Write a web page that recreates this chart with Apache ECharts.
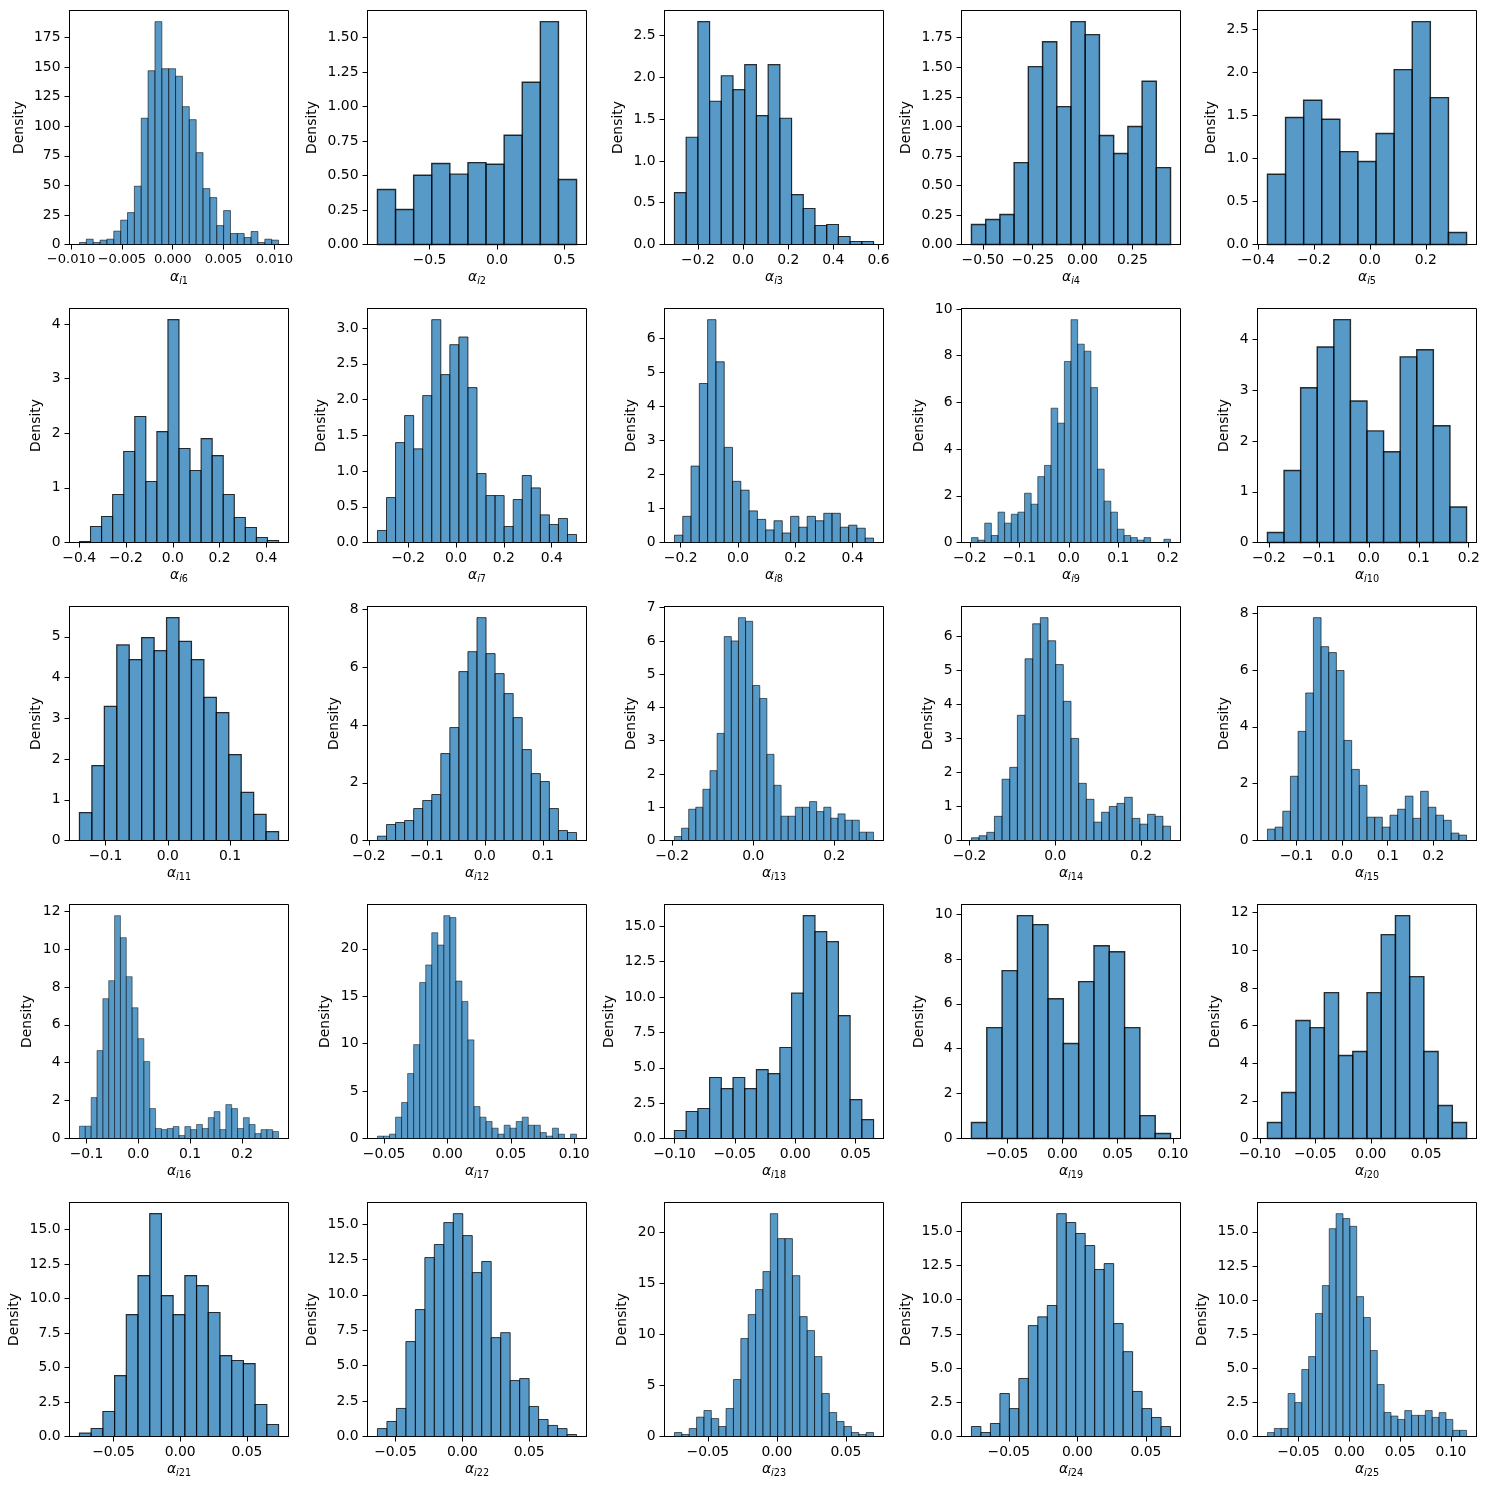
<!DOCTYPE html>
<html>
<head>
<meta charset="utf-8">
<script src="https://cdn.jsdelivr.net/npm/echarts@6/dist/echarts.min.js"></script>
<style>
  html, body { margin: 0; padding: 0; background: #fff; }
  #chart { width: 1489px; height: 1490px; }
</style>
</head>
<body>
<div id="chart"></div>
<script>
// density heights per panel
var h1 = [1.7, 4.5, 1.7, 3.7, 4.5, 11.3, 20.6, 27, 49.3, 106.8, 147, 188.5, 148.7, 148.7, 142.3, 116.6, 105.6, 77.7, 47.3, 39.7, 16, 28.7, 9.3, 9.3, 5.9, 11, 1.7, 4.5, 3.7];
var h2 = [0.399, 0.254, 0.502, 0.587, 0.51, 0.594, 0.582, 0.792, 1.176, 1.616, 0.471];
var h3 = [0.622, 1.284, 2.668, 1.715, 2.02, 1.854, 2.153, 1.543, 2.153, 1.511, 0.598, 0.431, 0.227, 0.239, 0.096, 0.036, 0.036];
var h4 = [0.169, 0.211, 0.254, 0.693, 1.505, 1.716, 1.167, 1.886, 1.776, 0.922, 0.77, 0.998, 1.381, 0.651];
var h5 = [0.818, 1.477, 1.678, 1.457, 1.081, 0.965, 1.291, 2.035, 2.593, 1.709, 0.14];
var h6 = [0.018, 0.293, 0.476, 0.878, 1.665, 2.305, 1.116, 2.03, 4.079, 1.72, 1.317, 1.902, 1.591, 0.878, 0.457, 0.274, 0.091, 0.037];
var h7 = [0.168, 0.629, 1.398, 1.776, 1.31, 2.055, 3.118, 2.349, 2.768, 2.875, 2.167, 0.965, 0.657, 0.657, 0.224, 0.601, 0.937, 0.764, 0.387, 0.252, 0.336, 0.112];
var h8 = [0.215, 0.77, 2.25, 4.68, 6.56, 5.32, 2.8, 1.8, 1.54, 0.93, 0.68, 0.37, 0.64, 0.28, 0.77, 0.45, 0.77, 0.64, 0.86, 0.86, 0.45, 0.51, 0.42, 0.13];
var h9 = [0.21, 0.1, 0.83, 0.3, 1.3, 0.83, 1.21, 1.3, 2.11, 1.64, 2.82, 3.3, 5.75, 5.11, 7.75, 9.54, 8.49, 8.19, 6.63, 3.14, 1.77, 1.3, 0.57, 0.3, 0.21, 0.1, 0.21, 0, 0, 0.14];
var h10 = [0.197, 1.418, 3.05, 3.854, 4.393, 2.79, 2.2, 1.79, 3.66, 3.8, 2.3, 0.7];
var h11 = [0.687, 1.84, 3.29, 4.8, 4.44, 4.98, 4.66, 5.47, 4.885, 4.44, 3.51, 3.14, 2.11, 1.18, 0.64, 0.22];
var h12 = [0.15, 0.554, 0.624, 0.693, 1.108, 1.386, 1.594, 3.014, 3.915, 5.855, 6.547, 7.725, 6.478, 5.785, 5.092, 4.26, 3.152, 2.32, 2.044, 1.108, 0.346, 0.277];
var h13 = [0.12, 0.37, 0.94, 1.0, 1.54, 2.1, 3.22, 6.13, 6.0, 6.7, 6.59, 4.66, 4.27, 2.59, 1.66, 0.73, 0.73, 1.0, 1.0, 1.17, 0.87, 1.0, 0.67, 0.8, 0.61, 0.61, 0.25, 0.25];
var h14 = [0.08, 0.14, 0.24, 0.71, 1.8, 2.15, 3.68, 5.34, 6.37, 6.55, 5.87, 5.17, 4.09, 3.0, 1.68, 1.21, 0.54, 0.83, 1.0, 1.09, 1.27, 0.65, 0.48, 0.77, 0.71, 0.42];
var h15 = [0.4, 0.47, 1.03, 2.26, 3.84, 5.19, 7.84, 6.82, 6.61, 5.98, 3.52, 2.5, 1.94, 0.82, 0.82, 0.47, 0.89, 1.1, 1.56, 0.78, 1.73, 1.17, 0.89, 0.71, 0.26, 0.19];
var h16 = [0.65, 0.65, 2.16, 4.64, 7.38, 8.33, 11.76, 10.6, 8.54, 6.9, 5.27, 4.06, 1.58, 0.53, 0.47, 0.53, 0.63, 0.16, 0.63, 0.47, 0.74, 0.53, 1.1, 1.42, 0.47, 1.79, 1.58, 0.53, 1.1, 0.74, 0.26, 0.47, 0.47, 0.37];
var h17 = [0.25, 0.25, 0.46, 2.25, 3.8, 6.85, 9.9, 16.45, 18.3, 21.7, 20.4, 23.5, 23.3, 16.6, 14.45, 10.4, 3.37, 2.25, 1.79, 1.09, 0.46, 1.4, 1.09, 1.79, 2.25, 1.4, 1.4, 0.63, 0.25, 1.09, 0.46, 0, 0.46];
var h18 = [0.565, 1.91, 2.12, 4.31, 3.53, 4.31, 3.53, 4.87, 4.59, 6.43, 10.27, 15.75, 14.62, 13.91, 8.69, 2.75, 1.34];
var h19 = [0.71, 4.94, 7.48, 9.93, 9.53, 6.23, 4.23, 6.99, 8.59, 8.32, 4.94, 1.02, 0.22];
var h20 = [0.85, 2.44, 6.27, 5.89, 7.75, 4.41, 4.62, 7.75, 10.83, 11.84, 8.6, 4.62, 1.75, 0.85];
var h21 = [0.24, 0.58, 1.81, 4.42, 8.84, 11.67, 16.16, 10.22, 8.84, 11.67, 10.94, 8.99, 5.87, 5.51, 5.29, 2.32, 0.87];
var h22 = [0.56, 1.06, 1.98, 6.7, 8.96, 12.63, 13.55, 15.1, 15.73, 14.18, 11.57, 12.35, 6.98, 7.33, 3.95, 4.09, 2.12, 1.2, 0.78, 0.56, 0.14];
var h23 = [0.39, 0.2, 0.78, 1.9, 2.55, 1.76, 0.98, 2.75, 5.59, 9.61, 11.96, 14.41, 16.18, 21.86, 19.41, 19.41, 15.78, 11.76, 10.39, 7.84, 4.22, 2.35, 1.47, 0.98, 0.39, 0.2, 0.39];
var h24 = [0.73, 0.29, 0.95, 3.14, 2.04, 4.24, 8.1, 8.74, 9.57, 16.28, 15.63, 14.83, 13.95, 12.2, 12.63, 8.25, 6.2, 3.29, 2.04, 1.39, 0.73];
var h25 = [0.29, 0.59, 0.59, 3.15, 2.49, 4.91, 5.86, 9.01, 11.06, 15.23, 16.33, 15.97, 15.4, 10.25, 8.72, 6.3, 3.81, 1.76, 1.5, 1.25, 1.9, 1.55, 1.55, 1.9, 1.4, 1.75, 1.25, 0.45, 0.45];

// left edge of the first bin and bin width per panel
var binStart = [-0.00917, -0.886, -0.304, -0.557, -0.366, -0.399, -0.328, -0.2218, -0.1966, -0.2028,
                -0.142, -0.1851, -0.1943, -0.1956, -0.1638, -0.1136, -0.05525, -0.1, -0.0823, -0.0932,
                -0.0755, -0.0635, -0.0742, -0.0773, -0.0807];
var binWidth = [0.000675, 0.134, 0.0519, 0.0713, 0.0647, 0.0473, 0.0378, 0.02895, 0.0134, 0.0332,
                0.02, 0.0156, 0.01753, 0.01787, 0.0168, 0.0113, 0.00476, 0.00969, 0.01386, 0.01283,
                0.00878, 0.00709, 0.00534, 0.00692, 0.00676];

// tick labels
var xTicks = [
  [-0.01, -0.005, 0, 0.005, 0.01], [-0.5, 0, 0.5], [-0.2, 0, 0.2, 0.4, 0.6], [-0.5, -0.25, 0, 0.25], [-0.4, -0.2, 0, 0.2],
  [-0.4, -0.2, 0, 0.2, 0.4], [-0.2, 0, 0.2, 0.4], [-0.2, 0, 0.2, 0.4], [-0.2, -0.1, 0, 0.1, 0.2], [-0.2, -0.1, 0, 0.1, 0.2],
  [-0.1, 0, 0.1], [-0.2, -0.1, 0, 0.1], [-0.2, 0, 0.2], [-0.2, 0, 0.2], [-0.1, 0, 0.1, 0.2],
  [-0.1, 0, 0.1, 0.2], [-0.05, 0, 0.05, 0.1], [-0.1, -0.05, 0, 0.05], [-0.05, 0, 0.05, 0.1], [-0.1, -0.05, 0, 0.05],
  [-0.05, 0, 0.05], [-0.05, 0, 0.05], [-0.05, 0, 0.05], [-0.05, 0, 0.05], [-0.05, 0, 0.05, 0.1]
];
var xDecimals = [3, 1, 1, 2, 1, 1, 1, 1, 1, 1, 1, 1, 1, 1, 1, 1, 2, 2, 2, 2, 2, 2, 2, 2, 2];
var yTicks = [
  [0, 25, 50, 75, 100, 125, 150, 175], [0, 0.25, 0.5, 0.75, 1, 1.25, 1.5], [0, 0.5, 1, 1.5, 2, 2.5],
  [0, 0.25, 0.5, 0.75, 1, 1.25, 1.5, 1.75], [0, 0.5, 1, 1.5, 2, 2.5],
  [0, 1, 2, 3, 4], [0, 0.5, 1, 1.5, 2, 2.5, 3], [0, 1, 2, 3, 4, 5, 6], [0, 2, 4, 6, 8, 10], [0, 1, 2, 3, 4],
  [0, 1, 2, 3, 4, 5], [0, 2, 4, 6, 8], [0, 1, 2, 3, 4, 5, 6, 7], [0, 1, 2, 3, 4, 5, 6], [0, 2, 4, 6, 8],
  [0, 2, 4, 6, 8, 10, 12], [0, 5, 10, 15, 20], [0, 2.5, 5, 7.5, 10, 12.5, 15], [0, 2, 4, 6, 8, 10], [0, 2, 4, 6, 8, 10, 12],
  [0, 2.5, 5, 7.5, 10, 12.5, 15], [0, 2.5, 5, 7.5, 10, 12.5, 15], [0, 5, 10, 15, 20], [0, 2.5, 5, 7.5, 10, 12.5, 15], [0, 2.5, 5, 7.5, 10, 12.5, 15]
];
var yDecimals = [0, 2, 1, 2, 1, 0, 1, 0, 0, 0, 0, 0, 0, 0, 0, 0, 0, 1, 0, 0, 1, 1, 0, 1, 1];

var heights = [h1, h2, h3, h4, h5, h6, h7, h8, h9, h10, h11, h12, h13, h14, h15,
               h16, h17, h18, h19, h20, h21, h22, h23, h24, h25];

var FONT = "DejaVu Sans";
var FS = 13.9;
var colLeft = [69.5, 367.5, 664.5, 961.5, 1257.5];
var rowTop = [10.5, 308.5, 606.5, 904.5, 1202.5];
var W = 219, H = 234;

function fmt(v, d) {
  var s = (+v).toFixed(d);
  if (s.charAt(0) === "-") {
    if (parseFloat(s) === 0) return s.slice(1);
    s = "\u2212" + s.slice(1);
  }
  return s;
}

function textWidth(s) {
  var w = 0;
  for (var i = 0; i < s.length; i++) w += s[i] === "." ? 0.318 : 0.636;
  return w * FS;
}

function renderBar(params, api) {
  var a = api.coord([api.value(0), api.value(2)]);
  var b = api.coord([api.value(1), 0]);
  var w = b[0] - a[0];
  return {
    type: "rect",
    shape: { x: a[0], y: a[1], width: w, height: b[1] - a[1] },
    style: {
      fill: "rgba(31,119,180,0.75)",
      stroke: "rgba(0,0,0,0.8)",
      lineWidth: Math.min(1.4, 0.1 * w)
    }
  };
}

var chart = echarts.init(document.getElementById("chart"));
var grid = [], xAxis = [], yAxis = [], series = [];

for (var k = 0; k < 25; k++) {
  var r = Math.floor(k / 5), c = k % 5;
  var h = heights[k];
  var x0 = binStart[k], bw = binWidth[k];
  var x1 = x0 + bw * h.length;
  var span = x1 - x0;
  var ymax = Math.max.apply(null, h) * 1.05;

  var bins = [];
  for (var i = 0; i < h.length; i++) {
    if (h[i] > 0) bins.push([x0 + i * bw, x0 + (i + 1) * bw, h[i]]);
  }

  var yd = yDecimals[k];
  var ylabW = 0;
  yTicks[k].forEach(function (t) { ylabW = Math.max(ylabW, textWidth(fmt(t, yd))); });

  grid.push({
    left: colLeft[c], top: rowTop[r], width: W, height: H,
    show: true, borderColor: "#000", borderWidth: 1, backgroundColor: "transparent",
    outerBoundsMode: "none"
  });

  (function (xd, yd2) {
    xAxis.push({
      gridIndex: k, type: "value",
      min: x0 - 0.05 * span, max: x1 + 0.05 * span,
      axisLine: { show: true, onZero: false, lineStyle: { color: "#000", width: 1 } },
      splitLine: { show: false },
      axisTick: { show: true, length: 5, lineStyle: { color: "#000", width: 1 }, customValues: xTicks[k] },
      axisLabel: {
        customValues: xTicks[k], margin: 9, color: "#000",
        fontFamily: FONT, fontSize: k === 0 ? 13.1 : FS,
        showMinLabel: true, showMaxLabel: true, hideOverlap: false,
        formatter: function (v) { return fmt(v, xd); }
      },
      name: "{a|\u03b1}{s|i}{d|" + (k + 1) + "}",
      nameLocation: "middle", nameGap: 26,
      nameTextStyle: {
        color: "#000",
        rich: {
          a: { fontFamily: FONT, fontSize: FS, fontStyle: "italic", color: "#000", verticalAlign: "top", lineHeight: 16 },
          s: { fontFamily: FONT, fontSize: 9.7, fontStyle: "italic", color: "#000", verticalAlign: "bottom", lineHeight: 11, padding: [6, 0, 0, 0] },
          d: { fontFamily: FONT, fontSize: 9.7, color: "#000", verticalAlign: "bottom", lineHeight: 11, padding: [6, 0, 0, 0] }
        }
      }
    });
    yAxis.push({
      gridIndex: k, type: "value",
      min: 0, max: ymax,
      axisLine: { show: true, onZero: false, lineStyle: { color: "#000", width: 1 } },
      splitLine: { show: false },
      axisTick: { show: true, length: 5, lineStyle: { color: "#000", width: 1 }, customValues: yTicks[k] },
      axisLabel: {
        customValues: yTicks[k], margin: 9, color: "#000",
        fontFamily: FONT, fontSize: FS,
        showMinLabel: true, showMaxLabel: true, hideOverlap: false,
        formatter: function (v) { return fmt(v, yd2); }
      },
      name: "Density", nameLocation: "middle", nameRotate: 90,
      nameGap: ylabW + 17,
      nameTextStyle: { fontFamily: FONT, fontSize: FS, color: "#000" }
    });
  })(xDecimals[k], yd);

  series.push({
    type: "custom",
    xAxisIndex: k, yAxisIndex: k,
    data: bins,
    encode: { x: [0, 1], y: 2 },
    renderItem: renderBar,
    silent: true
  });
}

chart.setOption({
  animation: false,
  backgroundColor: "#fff",
  grid: grid,
  xAxis: xAxis,
  yAxis: yAxis,
  series: series
});
</script>
</body>
</html>
